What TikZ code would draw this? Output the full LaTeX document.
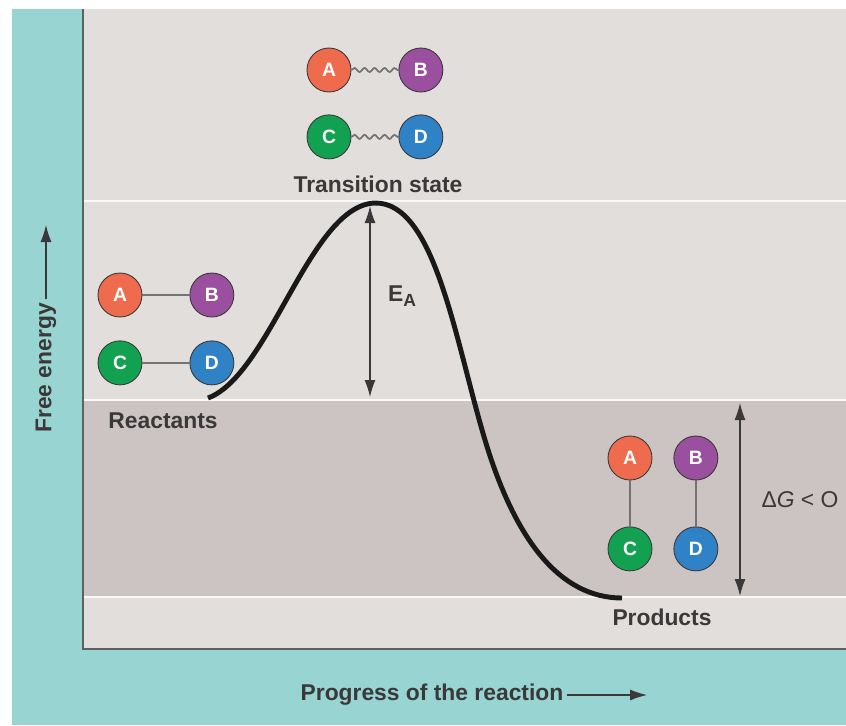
\documentclass[tikz,border=0pt]{standalone}
\usepackage{fontspec}
\setmainfont{Liberation Sans}
\usepackage{xcolor}
\usepackage{tikz}
\usetikzlibrary{arrows.meta,positioning,decorations.pathmorphing}
\definecolor{bgteal}{HTML}{98D4D2}
\definecolor{panelgray}{HTML}{E2DEDB}
\definecolor{bandgray}{HTML}{CCC4C2}
\definecolor{inkgray}{HTML}{3A3838}
\definecolor{atomA}{HTML}{EE6B4D}
\definecolor{atomB}{HTML}{9B4F9F}
\definecolor{atomC}{HTML}{12A150}
\definecolor{atomD}{HTML}{2F82C6}

\begin{document}
\begin{tikzpicture}[x=0.02cm,y=-0.02cm,node distance=0.94cm,>={Latex[length=3.4mm,width=2.2mm]},font=\bfseries\fontsize{13}{15}\selectfont]
\tikzstyle{atom}=[circle,draw=inkgray,line width=0.5pt,minimum size=0.88cm,inner sep=0pt,text=white,font=\bfseries\fontsize{11}{13}\selectfont]
\tikzstyle{bond}=[draw=black!55,line width=1pt]
\tikzstyle{weakbond}=[bond,decorate,decoration={snake,amplitude=0.4mm,segment length=2mm}]
\tikzstyle{label}=[text=inkgray,inner sep=1pt]
\tikzstyle{level}=[draw=white!85!panelgray,line width=1.2pt]
\tikzstyle{gap}=[<->,draw=inkgray,line width=0.7pt]
\useasboundingbox (0,0) rectangle (846,725);
% background and plot area
\fill[bgteal] (12,9) rectangle (846,725);
\fill[panelgray] (83,9) rectangle (846,649);
\fill[bandgray] (83,400) rectangle (846,597);
\draw[level] (83,201) -- (846,201);
\draw[level] (83,400) -- (846,400);
\draw[level] (83,597) -- (846,597);
\draw[inkgray!80,line width=1.2pt] (83,9) -- (83,649) -- (846,649);
% energy profile
\draw[black!90,line width=2.8pt] (208,398) .. controls (270,375) and (310,205) .. (375,203)
  .. controls (435,202) and (455,340) .. (485,440)
  .. controls (515,540) and (560,598) .. (622,598);
% transition state
\node[atom,fill=atomA] (tsA) at (329,70) {A};
\node[atom,fill=atomB,right=of tsA] (tsB) {B};
\node[atom,fill=atomC,below=0.44cm of tsA] (tsC) {C};
\node[atom,fill=atomD,right=of tsC] (tsD) {D};
\draw[weakbond] (tsA) -- (tsB);
\draw[weakbond] (tsC) -- (tsD);
\node[label] (tsLabel) at (378,184) {Transition state};
% reactants
\node[atom,fill=atomA] (rA) at (120,295) {A};
\node[atom,fill=atomB,right=of rA] (rB) {B};
\node[atom,fill=atomC,below=0.46cm of rA] (rC) {C};
\node[atom,fill=atomD,right=of rC] (rD) {D};
\draw[bond] (rA) -- (rB);
\draw[bond] (rC) -- (rD);
\node[label] (rLabel) at (163,421) {Reactants};
% products
\node[atom,fill=atomA] (pA) at (630,458) {A};
\node[atom,fill=atomB,right=0.42cm of pA] (pB) {B};
\node[atom,fill=atomC,below=0.92cm of pA] (pC) {C};
\node[atom,fill=atomD,right=0.42cm of pC] (pD) {D};
\draw[bond] (pA) -- (pC);
\draw[bond] (pB) -- (pD);
\node[label] (pLabel) at (662,617) {Products};
% activation energy and free energy change
\coordinate (peak) at (370,206);
\coordinate (reactLvl) at (370,397);
\draw[gap] (peak) -- (reactLvl);
\node[label,anchor=west] (ea) at (386,296) {E\raisebox{-0.45ex}{\fontsize{10}{12}\selectfont A}};
\coordinate (dgTop) at (740,403);
\coordinate (dgBot) at (740,596);
\draw[gap] (dgTop) -- (dgBot);
\node[label,font=\mdseries\fontsize{13}{15}\selectfont] (dg) at (800,500) {Δ\textit{G} < O};
% axes
\node[label,rotate=90] (freeE) at (46,368) {Free energy};
\coordinate (freeTip) at (46,225);
\draw[->,draw=inkgray,line width=0.7pt] ([yshift=1pt]freeE.east) -- (freeTip);
\node[label] (prog) at (432,695) {Progress of the reaction};
\coordinate (progTip) at (647,695);
\draw[->,draw=inkgray,line width=0.7pt] ([xshift=1pt]prog.east) -- (progTip);
\end{tikzpicture}
\end{document}
